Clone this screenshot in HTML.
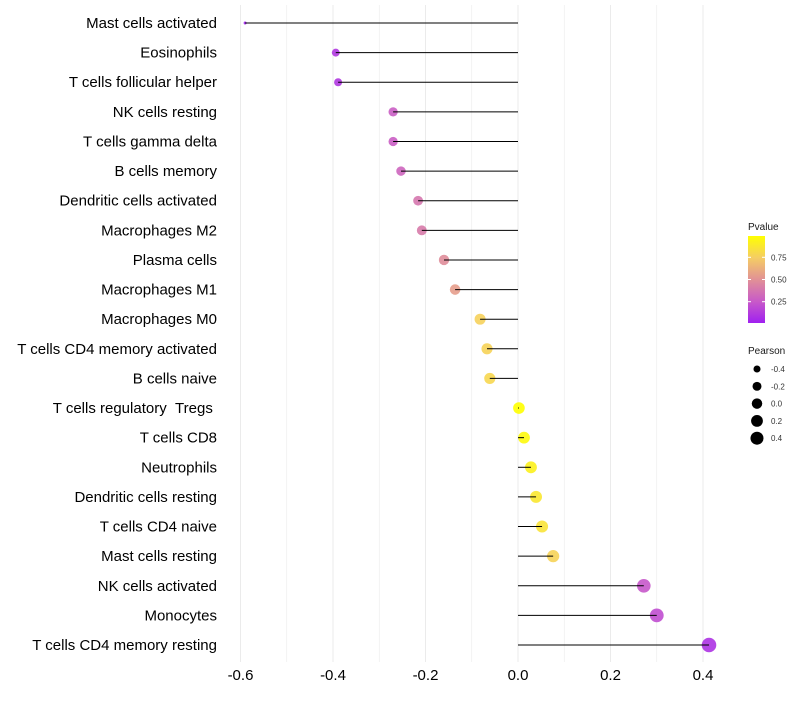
<!DOCTYPE html>
<html><head><meta charset="utf-8"><style>
body{margin:0;background:#fff;font-family:"Liberation Sans",sans-serif}
</style></head><body>
<svg id="c" width="800" height="700" xmlns="http://www.w3.org/2000/svg"></svg>
<script>
const categories=["Mast cells activated","Eosinophils","T cells follicular helper","NK cells resting","T cells gamma delta","B cells memory","Dendritic cells activated","Macrophages M2","Plasma cells","Macrophages M1","Macrophages M0","T cells CD4 memory activated","B cells naive","T cells regulatory\u00a0\u00a0Tregs\u00a0","T cells CD8","Neutrophils","Dendritic cells resting","T cells CD4 naive","Mast cells resting","NK cells activated","Monocytes","T cells CD4 memory resting"];
const pearson=[-0.590,-0.394,-0.389,-0.270,-0.270,-0.253,-0.216,-0.208,-0.160,-0.136,-0.082,-0.067,-0.061,0.002,0.013,0.028,0.039,0.052,0.076,0.272,0.300,0.413];
const pvalue=[0.01,0.10,0.10,0.27,0.27,0.30,0.38,0.40,0.48,0.55,0.77,0.78,0.80,1.00,0.97,0.93,0.88,0.86,0.78,0.24,0.20,0.08];
const xTicks=[-0.6,-0.4,-0.2,0.0,0.2,0.4];
const xTickLabels=["-0.6","-0.4","-0.2","0.0","0.2","0.4"];
const pTicks=[0.25,0.5,0.75];
const pTickLabels=["0.25","0.50","0.75"];
const sizeBreaks=[-0.4,-0.2,0,0.2,0.4];
const sizeLabels=["-0.4","-0.2","0.0","0.2","0.4"];

const NS="http://www.w3.org/2000/svg",svg=document.getElementById('c');
function mk(t,a,p){const e=document.createElementNS(NS,t);for(const k in a)e.setAttribute(k,a[k]);(p||svg).appendChild(e);return e;}
const x=v=>518+v*462.5;
const y=i=>23+i*(645-23)/(categories.length-1);
const stops=[[160,32,240],[200,90,200],[225,145,150],[245,205,100],[255,255,0]];
function col(p){p=Math.max(0,Math.min(1,p));const k=Math.min(3,Math.floor(p*4)),t=p*4-k,a=stops[k],b=stops[k+1];
return `rgb(${a.map((c,j)=>Math.round(c+(b[j]-c)*t)).join(',')})`;}
function rad(v){if(v>=-0.39)return Math.sqrt(16+46*(v+0.39));const t=(v+0.59)/0.2;return Math.sqrt(2.25+t*13.75);}
const panelT=5,panelB=662;
for(let k=-6;k<=4;k++){const v=k/10;const g=mk('line',{x1:x(v),x2:x(v),y1:panelT,y2:panelB,stroke:'#ebebeb','stroke-width':k%2===0?1:0.6});
}
categories.forEach((c,i)=>{
 const t=mk('text',{x:217,y:y(i)+5,'text-anchor':'end','font-size':15,fill:'#000'});t.textContent=c;
 
 const d=mk('circle',{cx:x(pearson[i]),cy:y(i),r:rad(pearson[i]),fill:col(pvalue[i]),'fill-opacity':0.9});
 
 const l=mk('line',{x1:x(0),x2:x(pearson[i]),y1:y(i),y2:y(i),stroke:'#000','stroke-width':1});
 
});
xTicks.forEach((v,i)=>{const t=mk('text',{x:x(v),y:680,'text-anchor':'middle','font-size':15,fill:'#000'});t.textContent=xTickLabels[i];
});
const lt=mk('text',{x:748,y:230,'font-size':10,fill:'#1a1a1a'});lt.textContent='Pvalue';

const defs=mk('defs',{});const gr=mk('linearGradient',{id:'g',x1:0,y1:1,x2:0,y2:0},defs);
[0,0.25,0.5,0.75,1].forEach(o=>mk('stop',{offset:o,'stop-color':col(o)},gr));
const bar=mk('rect',{x:748,y:236,width:17,height:87,fill:'url(#g)'});

const py=p=>323-(p-0.01)/(0.99-0.01)*87;
pTicks.forEach((p,i)=>{mk('line',{x1:748,x2:751,y1:py(p),y2:py(p),stroke:'#fff'});mk('line',{x1:762,x2:765,y1:py(p),y2:py(p),stroke:'#fff'});
const t=mk('text',{x:771,y:py(p)+3,'font-size':8,fill:'#333'});t.textContent=pTickLabels[i];
});
const st=mk('text',{x:748,y:354,'font-size':10,fill:'#1a1a1a'});st.textContent='Pearson';

sizeBreaks.forEach((v,i)=>{const cy=369+i*17.3;
const c=mk('circle',{cx:757,cy:cy,r:rad(v)*0.9,fill:'#000'});
const t=mk('text',{x:771,y:cy+3,'font-size':8,fill:'#333'});t.textContent=sizeLabels[i];
});
</script>
</body></html>
